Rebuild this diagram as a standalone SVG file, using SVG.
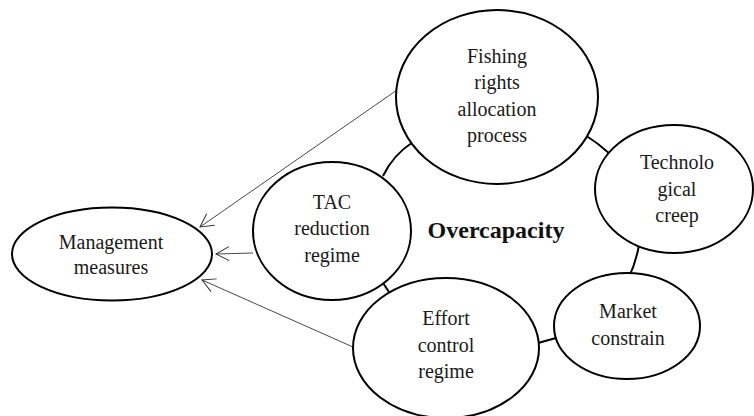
<svg xmlns="http://www.w3.org/2000/svg" width="754" height="416" viewBox="0 0 754 416">
<style>
.node{fill:#fff;stroke:#000;stroke-width:2}
.ring{fill:none;stroke:#000;stroke-width:2}
.lbl{font-family:"Liberation Serif","Times New Roman",serif;font-size:20px;fill:#1a1a1a;text-anchor:middle}
.big{font-family:"Liberation Serif","Times New Roman",serif;font-size:24px;font-weight:bold;fill:#111;text-anchor:middle}
.arr{fill:none;stroke:#333;stroke-width:0.9;marker-end:url(#oa)}
</style>
<defs>
<marker id="oa" markerUnits="userSpaceOnUse" markerWidth="16" markerHeight="16" viewBox="0 0 16 16" refX="15" refY="8" orient="auto">
<path d="M2,1 L15,8 L2,15" fill="none" stroke="#333" stroke-width="1"/>
</marker>
</defs>
<rect width="754" height="416" fill="#fff"/>
<g id="ring">
<path class="ring" d="M383,176 Q393,155 413,142"/>
<path class="ring" d="M585,135 Q598,143 610,154"/>
<path class="ring" d="M639,245 Q636,262 629,277"/>
<path class="ring" d="M538,343 L556,338"/>
<path class="ring" d="M383,283 L389,292"/>
</g>
<g id="connectors">
<line class="arr" x1="397" y1="90" x2="200" y2="227"/>
<line class="arr" x1="253" y1="253" x2="216" y2="254"/>
<line class="arr" x1="353" y1="347" x2="202" y2="280"/>
</g>
<g id="management">
<ellipse class="node" cx="112" cy="254" rx="100" ry="46.5"/>
<text class="lbl" x="111" y="249">Management</text>
<text class="lbl" x="111" y="274">measures</text>
</g>
<g id="tac">
<ellipse class="node" cx="332" cy="231" rx="79" ry="69"/>
<text class="lbl" x="332" y="209">TAC</text>
<text class="lbl" x="332" y="235">reduction</text>
<text class="lbl" x="332" y="262">regime</text>
</g>
<g id="fishing">
<ellipse class="node" cx="497" cy="97" rx="101" ry="87"/>
<text class="lbl" x="497" y="63">Fishing</text>
<text class="lbl" x="497" y="89">rights</text>
<text class="lbl" x="497" y="116">allocation</text>
<text class="lbl" x="497" y="142">process</text>
</g>
<g id="techno">
<ellipse class="node" cx="674" cy="189" rx="79" ry="64"/>
<text class="lbl" x="677" y="169">Technolo</text>
<text class="lbl" x="677" y="196">gical</text>
<text class="lbl" x="677" y="222">creep</text>
</g>
<g id="market">
<ellipse class="node" cx="627" cy="326" rx="73" ry="53"/>
<text class="lbl" x="628" y="318">Market</text>
<text class="lbl" x="628" y="345">constrain</text>
</g>
<g id="effort">
<ellipse class="node" cx="446" cy="348" rx="93" ry="70"/>
<text class="lbl" x="446" y="325">Effort</text>
<text class="lbl" x="446" y="352">control</text>
<text class="lbl" x="446" y="378">regime</text>
</g>
<g id="overcapacity">
<text class="big" x="496" y="238">Overcapacity</text>
</g>
</svg>
